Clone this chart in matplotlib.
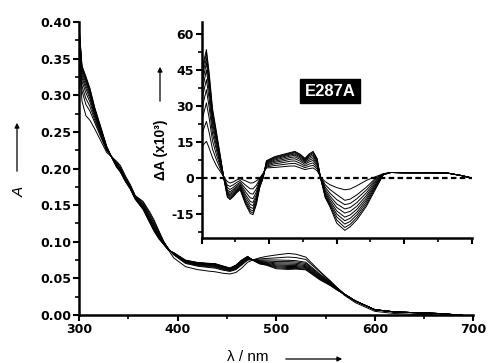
import numpy as np
import matplotlib
matplotlib.use("Agg")
from matplotlib import pyplot as plt
from matplotlib.ticker import MultipleLocator

plt.rcParams['font.family'] = ['Liberation Sans', 'DejaVu Sans']

# wavelengths (nm) shared by all spectra
wl = [300, 303, 307, 311, 316, 322, 328, 333, 338, 342, 347, 352, 357, 365, 372,
      376, 381, 386, 391, 396, 408, 420, 431, 438, 446, 453, 459, 465, 471, 476,
      483, 490, 500, 512, 520, 530, 544, 555, 562, 569, 580, 600, 620, 640, 665,
      685, 700]

# first spectrum (absorbance)
A0 = [0.352, 0.292, 0.272, 0.266, 0.254, 0.238, 0.222, 0.216, 0.210, 0.204,
      0.190, 0.178, 0.163, 0.155, 0.140, 0.130, 0.115, 0.100, 0.088, 0.078,
      0.066, 0.062, 0.060, 0.059, 0.057, 0.056, 0.058, 0.064, 0.072, 0.075,
      0.078, 0.080, 0.082, 0.084, 0.083, 0.079, 0.060, 0.046, 0.036, 0.027,
      0.017, 0.005, 0.002, 0.001, 0.000, -0.001, -0.002]

# difference spectra (x10^3), 300-569 nm
dA1 = [13, 14, 15.3, 12.5, 8.5, 5, 2.5, 0.3, -1.5, -2.1, -1.6, -0.8, -0.3, -1.2, -2.1,
       -2, -1.2, 0, 2, 4.2, 4.4, 4.7, 5, 5, 4.2, 3.5, 3.9, 4.2, 3, 0.5,
       -1.5, -2.8, -4, -4.9, -4.6, -3.2, -1, 0.3, 1, 1.8]
dA2 = [18, 20.5, 23.6, 19, 12, 7.5, 3.5, 0.2, -3, -3.5, -2.8, -1.8, -1, -3, -4.5,
       -4.5, -3, -0.5, 1.8, 4.6, 5.2, 5.6, 6, 6.1, 5.2, 4.3, 4.9, 5.3, 3.8, 0.5,
       -2.8, -4.8, -6.9, -9.3, -8.8, -7, -3.8, -0.8, 0.8, 1.7]
dA3 = [24, 27, 31.3, 25, 15.5, 9.5, 4.5, 0.1, -4, -4.8, -3.9, -2.7, -1.7, -4.5, -6.5,
       -6.7, -4.5, -1, 1.5, 5, 5.9, 6.4, 7, 7.1, 6.1, 5, 5.8, 6.3, 4.5, 0.5,
       -3.8, -6.3, -9, -11.1, -10.6, -8.6, -5, -1.5, 0.4, 1.6]
dA4 = [28, 32, 36.8, 29.5, 18.5, 11.5, 5.3, 0, -5, -5.7, -4.7, -3.4, -2.3, -5.8, -8.3,
       -8.6, -5.8, -1.5, 1.2, 5.4, 6.5, 7.1, 7.8, 8, 7, 5.7, 6.7, 7.3, 5.2, 0.5,
       -4.7, -7.5, -10.8, -12.9, -12.3, -10.2, -6.2, -2.2, 0, 1.5]
dA5 = [32, 36, 41, 33, 21, 13, 6, 0, -5.5, -6.4, -5.3, -4, -2.8, -7, -9.8,
       -10.2, -7, -2, 1, 5.8, 7, 7.7, 8.5, 8.8, 7.7, 6.3, 7.4, 8.1, 5.8, 0.4,
       -5.5, -8.5, -12.3, -14.6, -13.9, -11.7, -7.3, -2.9, -0.4, 1.5]
dA6 = [35, 39.5, 45, 36, 23, 14.5, 6.6, -0.1, -6, -7, -5.9, -4.5, -3.3, -8, -11,
       -11.5, -8, -2.5, 0.8, 6.1, 7.5, 8.3, 9.1, 9.5, 8.3, 6.8, 8.1, 8.9, 6.4, 0.3,
       -6.2, -9.4, -13.7, -16.3, -15.4, -13, -8.3, -3.6, -0.8, 1.4]
dA7 = [38, 42.5, 48, 38.5, 25, 15.8, 7.2, -0.2, -6.5, -7.6, -6.4, -5, -3.8, -9, -12.2,
       -12.7, -9, -3, 0.5, 6.4, 7.9, 8.8, 9.6, 10, 8.8, 7.2, 8.7, 9.6, 6.9, 0.2,
       -6.8, -10.2, -15, -17.8, -16.8, -14.2, -9.2, -4.2, -1.2, 1.4]
dA8 = [40, 45, 50, 40.5, 26.5, 17, 7.7, -0.3, -7, -8.1, -6.9, -5.4, -4.2, -9.8, -13.2,
       -13.7, -9.8, -3.3, 0.3, 6.7, 8.3, 9.2, 10, 10.5, 9.2, 7.6, 9.2, 10.2, 7.4, 0.2,
       -7.3, -10.9, -16.2, -19.2, -18.1, -15.3, -10.1, -4.8, -1.6, 1.4]
dA9 = [42, 47, 52, 42.5, 27.8, 18, 8.1, -0.4, -7.5, -8.6, -7.3, -5.8, -4.6, -10.5, -14,
       -14.6, -10.4, -3.6, 0.1, 7, 8.6, 9.5, 10.3, 10.8, 9.6, 7.9, 9.6, 10.7, 7.8, 0.1,
       -7.8, -11.5, -17.5, -20.6, -19.3, -16.4, -11, -5.4, -2, 1.4]
dA10 = [44.4, 48.5, 53.5, 44, 29, 19, 8.5, -0.5, -8, -9, -7.7, -6.1, -4.9, -11, -14.8,
        -15.3, -11, -4, 0, 7.2, 8.9, 9.8, 10.6, 11.1, 9.9, 8.2, 10, 11.1, 8.1, 0,
        -8.2, -12, -18.8, -21.8, -20.3, -17.4, -11.8, -6, -2.3, 1.4]
# common tail 580-700 nm
dA_tail = [2.3, 2.2, 2.2, 2.2, 2.0, 1.0, 0.0]

diffs = [dA1, dA2, dA3, dA4, dA5, dA6, dA7, dA8, dA9, dA10]

wl = np.array(wl)
A0 = np.array(A0)

fig = plt.figure(figsize=(4.89, 3.63), dpi=100)
ax = fig.add_axes([79/489, 1-315/363, 394.5/489, 293/363])
ins = fig.add_axes([201.7/489, 1-238/363, 270/489, 216/363])

# main spectra
ax.plot(wl, A0, color='black', lw=0.7)
for d in diffs:
    d = np.array(d + dA_tail)
    ax.plot(wl, A0 + d/1000, color='black', lw=0.7)

# difference spectra
ins.axhline(0, color='black', lw=1.6, ls=(0, (2.5, 1.5)))
for d in diffs:
    ins.plot(wl, d + dA_tail, color='black', lw=0.7)

tickfont = dict(family='DejaVu Sans', weight='bold', size=9)

for a in (ax, ins):
    a.spines['top'].set_visible(False)
    a.spines['right'].set_visible(False)
    a.spines['left'].set_linewidth(1.8)
    a.spines['bottom'].set_linewidth(1.8)
    a.tick_params(which='major', direction='out', length=4.5, width=1.5, pad=1)
    a.tick_params(which='minor', direction='out', length=3, width=1.2)
    a.set_xlim(300, 700)
    a.xaxis.set_major_locator(MultipleLocator(100))
    a.xaxis.set_minor_locator(MultipleLocator(50))

ax.set_ylim(0, 0.40)
ax.set_yticks(np.arange(0, 0.401, 0.05))
ax.set_yticklabels([f"{v:.2f}" for v in np.arange(0, 0.401, 0.05)], fontdict=tickfont)
ax.yaxis.set_minor_locator(MultipleLocator(0.025))
ax.set_xticks([300, 400, 500, 600, 700])
ax.set_xticklabels(['300', '400', '500', '600', '700'], fontdict=tickfont)

ins.set_ylim(-25, 65)
ins.set_yticks([-15, 0, 15, 30, 45, 60])
ins.set_yticklabels(['-15', '0', '15', '30', '45', '60'], fontdict=tickfont)
ins.yaxis.set_minor_locator(MultipleLocator(7.5))
ins.set_xticklabels([])
ins.patch.set_alpha(0)

# axis labels with arrows (figure pixel coordinates)
def fx(px):
    return px/489

def fy(py):
    return 1 - py/363

def arrow(x0, y0, x1, y1):
    fig.add_artist(plt.Annotation('', xy=(fx(x1), fy(y1)), xytext=(fx(x0), fy(y0)),
                                  xycoords='figure fraction',
                                  arrowprops=dict(arrowstyle='-|>', color='black',
                                                  lw=0.9, mutation_scale=7)))

fig.text(fx(20), fy(192), 'A', style='italic', fontsize=11, rotation=90,
         ha='center', va='center')
arrow(17, 174, 17, 120)
fig.text(fx(161), fy(150), 'ΔA (x10³)', fontweight='bold', fontsize=10, rotation=90,
         ha='center', va='center')
arrow(160, 104, 160, 64)
fig.text(fx(248), fy(357), 'λ / nm', fontsize=11, ha='center', va='center')
arrow(283, 359, 345, 359)

fig.text(fx(330), fy(91), 'E287A', color='white', fontweight='bold', fontsize=12,
         ha='center', va='center',
         bbox=dict(boxstyle='square,pad=0.25', facecolor='black', edgecolor='black'))

fig.savefig("out.png", dpi=100)
